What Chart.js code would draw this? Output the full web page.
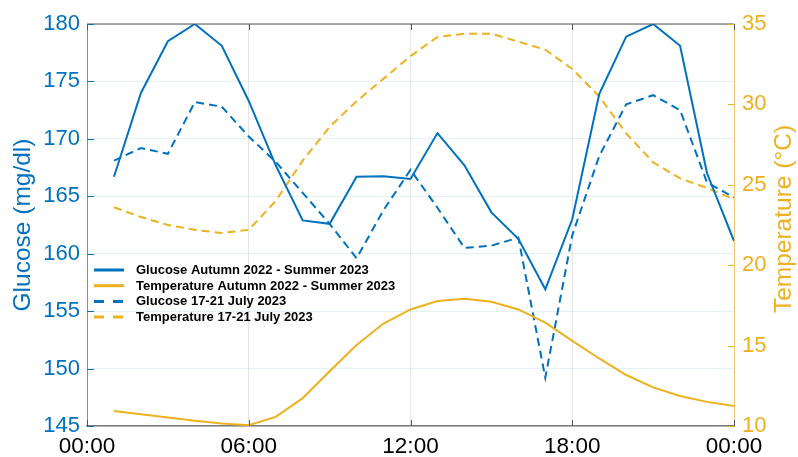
<!DOCTYPE html>
<html>
<head>
<meta charset="utf-8">
<script src="https://cdn.jsdelivr.net/npm/chart.js@4.4.1/dist/chart.umd.min.js"></script>
<style>
  body { margin: 0; background: #fff; }
  canvas { display: block; }
</style>
</head>
<body>
<canvas id="glucoseChart" width="798" height="457"></canvas>
<script>
// hour of day for each point
const hours = [1, 2, 3, 4, 5, 6, 7, 8, 9, 10, 11, 12, 13, 14, 15, 16, 17, 18, 19, 20, 21, 22, 23, 24];

// mean glucose (mg/dl), autumn 2022 - summer 2023
const glucoseAnnual = [166.7, 174.0, 178.5, 180.0, 178.1, 173.3, 167.7, 162.9, 162.6, 166.7, 166.75, 166.5,
                       170.5, 167.7, 163.6, 161.3, 156.9, 163.0, 173.9, 178.9, 180.0, 178.1, 167.0, 161.1];
// mean temperature (C), autumn 2022 - summer 2023
const tempAnnual = [10.94, 10.73, 10.53, 10.32, 10.16, 10.05, 10.57, 11.73, 13.4, 15.04, 16.37, 17.25,
                    17.77, 17.92, 17.73, 17.25, 16.43, 15.29, 14.2, 13.17, 12.4, 11.87, 11.5, 11.25];
// heat wave 17-21 July 2023
const glucoseJuly = [168.1, 169.2, 168.7, 173.2, 172.8, 170.2, 168.0, 165.3, 162.6, 159.6, 163.8, 167.3,
                     164.0, 160.5, 160.7, 161.4, 149.2, 161.6, 168.5, 173.0, 173.8, 172.5, 166.2, 164.9];
const tempJuly = [23.6, 23.0, 22.5, 22.2, 22.0, 22.2, 24.0, 26.5, 28.6, 30.2, 31.6, 33.0,
                  34.2, 34.4, 34.4, 33.9, 33.4, 32.2, 30.5, 28.2, 26.4, 25.4, 24.8, 24.1];

const seriesNames = ['Glucose Autumn 2022 - Summer 2023', 'Temperature Autumn 2022 - Summer 2023',
                     'Glucose 17-21 July 2023', 'Temperature 17-21 July 2023'];

const xTicks = [0, 6, 12, 18, 24];
const glucoseTicks = [145, 150, 155, 160, 165, 170, 175, 180];
const tempTicks = [10, 15, 20, 25, 30, 35];

const BLUE = '#0072BD';
const ORANGE = '#EDB120';
const FRAME = '#7a7a7a';
const FONT = "'Liberation Sans', Arial, Helvetica, sans-serif";

function toPoints(vals) {
    return hours.map((h, i) => ({ x: h, y: vals[i] }));
}

// legend drawn inside the plot, plus inward ticks / top frame / right title
const extrasPlugin = {
    id: 'extras',
    afterDatasetsDraw(chart) {
        const ctx = chart.ctx;
        const items = [
            { color: BLUE, dash: [] },
            { color: ORANGE, dash: [] },
            { color: BLUE, dash: [10, 9] },
            { color: ORANGE, dash: [10, 9] }
        ];
        ctx.save();
        ctx.font = 'bold 13px ' + FONT;
        ctx.textBaseline = 'middle';
        ctx.textAlign = 'left';
        items.forEach((it, i) => {
            const y = 270 + i * 15.7;
            ctx.beginPath();
            ctx.setLineDash(it.dash);
            ctx.lineWidth = 3;
            ctx.strokeStyle = it.color;
            ctx.moveTo(94, y);
            ctx.lineTo(124, y);
            ctx.stroke();
            ctx.setLineDash([]);
            ctx.fillStyle = '#000';
            ctx.fillText(seriesNames[i], 136, y + 0.5);
        });
        ctx.restore();
    },
    afterDraw(chart) {
        const ctx = chart.ctx;
        const a = chart.chartArea;
        const sx = chart.scales.x, sy = chart.scales.y, sy1 = chart.scales.y1;
        ctx.save();
        // top frame line
        ctx.strokeStyle = '#555';
        ctx.lineWidth = 1.2;
        ctx.beginPath();
        ctx.moveTo(a.left, a.top);
        ctx.lineTo(a.right, a.top);
        ctx.stroke();
        // inward ticks
        ctx.lineWidth = 1;
        ctx.strokeStyle = '#555';
        xTicks.forEach(v => {
            const px = Math.round(sx.getPixelForValue(v)) + 0.5;
            ctx.beginPath();
            ctx.moveTo(px, a.bottom); ctx.lineTo(px, a.bottom - 6);
            ctx.moveTo(px, a.top); ctx.lineTo(px, a.top + 6);
            ctx.stroke();
        });
        ctx.strokeStyle = BLUE;
        glucoseTicks.forEach(v => {
            const py = Math.round(sy.getPixelForValue(v)) + 0.5;
            ctx.beginPath();
            ctx.moveTo(a.left, py); ctx.lineTo(a.left + 7, py);
            ctx.stroke();
        });
        ctx.strokeStyle = ORANGE;
        tempTicks.forEach(v => {
            const py = Math.round(sy1.getPixelForValue(v)) + 0.5;
            ctx.beginPath();
            ctx.moveTo(a.right, py); ctx.lineTo(a.right - 6, py);
            ctx.stroke();
        });
        // right axis title, reading bottom to top
        ctx.translate(784, 219);
        ctx.rotate(-Math.PI / 2);
        ctx.font = '24.5px ' + FONT;
        ctx.fillStyle = ORANGE;
        ctx.textAlign = 'center';
        ctx.textBaseline = 'middle';
        ctx.fillText('Temperature (°C)', 0, 0);
        ctx.restore();
    }
};

const chart = new Chart(document.getElementById('glucoseChart'), {
    type: 'line',
    data: {
        datasets: [
            { label: seriesNames[0], data: toPoints(glucoseAnnual), yAxisID: 'y',
              borderColor: BLUE, borderWidth: 2, pointRadius: 0, tension: 0 },
            { label: seriesNames[1], data: toPoints(tempAnnual), yAxisID: 'y1',
              borderColor: ORANGE, borderWidth: 2, pointRadius: 0, tension: 0 },
            { label: seriesNames[2], data: toPoints(glucoseJuly), yAxisID: 'y',
              borderColor: BLUE, borderWidth: 2, borderDash: [8, 5], pointRadius: 0, tension: 0 },
            { label: seriesNames[3], data: toPoints(tempJuly), yAxisID: 'y1',
              borderColor: ORANGE, borderWidth: 2, borderDash: [8, 5], pointRadius: 0, tension: 0 }
        ]
    },
    options: {
        responsive: false,
        animation: false,
        layout: { padding: { top: 24, left: 0, right: 0, bottom: 0 } },
        plugins: {
            legend: { display: false },
            tooltip: { enabled: false }
        },
        scales: {
            x: {
                type: 'linear',
                min: 0,
                max: 24,
                afterFit: (s) => { s.height = 31; },
                afterBuildTicks: (s) => { s.ticks = xTicks.map(v => ({ value: v })); },
                ticks: {
                    color: '#000',
                    font: { family: FONT, size: 22.5 },
                    padding: 7,
                    maxRotation: 0,
                    autoSkip: false,
                    callback: (v) => String(v % 24).padStart(2, '0') + ':00'
                },
                grid: { color: 'rgba(38,38,38,0.12)', drawTicks: false },
                border: { color: FRAME, width: 1.5 }
            },
            y: {
                position: 'left',
                min: 145,
                max: 180,
                afterFit: (s) => { s.width = 87; },
                afterBuildTicks: (s) => { s.ticks = glucoseTicks.map(v => ({ value: v })); },
                ticks: {
                    color: BLUE,
                    font: { family: FONT, size: 22 },
                    padding: 7
                },
                title: {
                    display: true,
                    text: 'Glucose (mg/dl)',
                    color: BLUE,
                    font: { family: FONT, size: 24.5 },
                    padding: { top: 9, bottom: 0 }
                },
                grid: { color: 'rgba(0,114,189,0.10)', drawTicks: false },
                border: { color: 'rgba(0,114,189,0.6)', width: 1 }
            },
            y1: {
                position: 'right',
                min: 10,
                max: 35,
                afterFit: (s) => { s.width = 64; },
                afterBuildTicks: (s) => { s.ticks = tempTicks.map(v => ({ value: v })); },
                ticks: {
                    color: ORANGE,
                    font: { family: FONT, size: 22 },
                    padding: 8
                },
                grid: { display: false, drawTicks: false },
                border: { color: 'rgba(237,177,32,0.6)', width: 1 }
            }
        }
    },
    plugins: [extrasPlugin]
});
</script>
</body>
</html>
